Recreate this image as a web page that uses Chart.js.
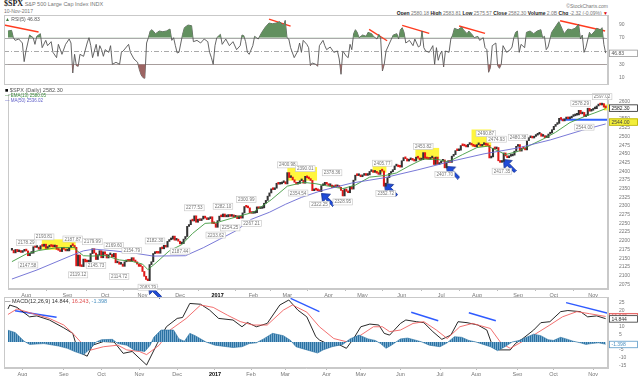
<!DOCTYPE html>
<html>
<head>
<meta charset="utf-8">
<script src="https://cdn.jsdelivr.net/npm/chart.js@4.4.1/dist/chart.umd.min.js"></script>
<style>
body { margin: 0; background: #fff; width: 640px; height: 376px; overflow: hidden; position: relative; font-family: "Liberation Sans", Arial, sans-serif; }
.pane { position: absolute; left: 0; width: 640px; }
.t { position: absolute; white-space: nowrap; font-size: 5px; line-height: 6px; color: #777; }
.t b { color: #222; }
</style>
</head>
<body>
<div class="t" style="left:4px;top:1px;font-size:5.5px;"><b style="font-family:'Liberation Serif';font-size:8px;">$SPX</b> S&amp;P 500 Large Cap Index INDX</div>
<div class="t" style="left:4px;top:8px;">10-Nov-2017</div>
<div class="t" style="right:32px;top:3px;">©StockCharts.com</div>
<div class="t" style="right:32px;top:10px;"><b>Open</b> 2580.18 <b>High</b> 2583.81 <b>Low</b> 2575.57 <b>Close</b> 2582.30 <b>Volume</b> 2.0B <b>Chg</b> -2.32 (-0.09%) <span style="color:#d00">▼</span></div>

<div class="pane" style="top:15px;height:70px;"><canvas id="rsiChart"></canvas></div>
<div class="pane" style="top:86px;height:214px;"><canvas id="priceChart"></canvas></div>
<div class="pane" style="top:297px;height:79px;"><canvas id="macdChart"></canvas></div>

<div class="t" style="left:5px;top:16px;color:#555;"><span style="color:#3d7a3d">▲</span> RSI(5) 46.83</div>
<div class="t" style="left:5px;top:87px;color:#555;font-size:5.5px;"><span style="color:#000">■</span> $SPX (Daily) 2582.30</div>
<div class="t" style="left:5px;top:93px;color:#3a8a3a;font-size:4.5px;">— EMA(13) 2580.05</div>
<div class="t" style="left:5px;top:98px;color:#6060c8;font-size:4.5px;">— MA(50) 2536.02</div>
<div class="t" style="left:5px;top:298px;color:#333;font-size:5.5px;">— MACD(12,26,9) 14.844, <span style="color:#e05050">16.243</span>, <span style="color:#4a90c0">-1.398</span></div>

<script>
// x axis: trading-day index, 20 Jul 2016 = 0
const monthDays = [8, 31, 52, 73, 94, 115, 135, 154, 177, 196, 218, 240, 260, 283, 303, 325];
const monthLabels = ["Aug", "Sep", "Oct", "Nov", "Dec", "2017", "Feb", "Mar", "Apr", "May", "Jun", "Jul", "Aug", "Sep", "Oct", "Nov"];

// daily closes
const closes = [
  2173.0, 2165.2, 2175.0, 2168.5, 2169.2, 2166.6, 2170.1, 2173.6,
  2170.8, 2157.0, 2163.8, 2164.3, 2182.9, 2180.9, 2181.7, 2175.5, 2185.8, 2184.1, 2190.2, 2178.2, 2182.2, 2187.0, 2183.9, 2182.6, 2186.9, 2175.4, 2172.5, 2169.0, 2180.4, 2176.1, 2170.9,
  2170.9, 2180.0, 2186.5, 2186.2, 2181.3, 2127.8, 2159.0, 2127.0, 2125.8, 2147.3, 2139.2, 2139.1, 2139.8, 2163.1, 2177.2, 2164.7, 2146.1, 2159.9, 2171.4, 2151.1, 2168.3,
  2161.2, 2150.5, 2159.7, 2160.8, 2153.7, 2163.7, 2136.7, 2139.2, 2132.6, 2133.0, 2126.5, 2139.6, 2144.3, 2141.3, 2141.2, 2151.3, 2143.2, 2139.4, 2133.0, 2126.4, 2126.2,
  2111.7, 2097.9, 2088.7, 2085.2, 2131.5, 2139.6, 2163.3, 2167.5, 2164.5, 2164.2, 2180.4, 2176.9, 2187.1, 2181.9, 2198.2, 2202.9, 2204.7, 2213.4, 2201.7, 2204.7, 2198.8,
  2191.1, 2191.9, 2204.7, 2212.2, 2241.4, 2246.2, 2259.5, 2257.0, 2271.7, 2253.3, 2262.0, 2258.1, 2262.5, 2270.8, 2265.2, 2261.0, 2263.8, 2268.9, 2249.9, 2249.3, 2238.8,
  2257.8, 2270.8, 2269.0, 2277.0, 2268.9, 2268.9, 2275.3, 2270.4, 2274.6, 2267.9, 2271.9, 2263.7, 2271.3, 2265.2, 2280.1, 2298.4, 2296.7, 2294.7, 2280.9, 2278.9,
  2279.6, 2280.9, 2297.4, 2292.6, 2293.1, 2294.7, 2307.9, 2316.1, 2328.3, 2337.6, 2349.3, 2347.2, 2351.2, 2365.4, 2362.8, 2363.8, 2367.3, 2369.8, 2363.6,
  2396.0, 2381.9, 2383.1, 2375.3, 2368.4, 2363.0, 2364.9, 2372.6, 2373.5, 2365.5, 2385.3, 2381.4, 2378.3, 2373.5, 2344.0, 2348.5, 2346.0, 2344.0, 2341.6, 2358.6, 2361.1, 2368.1, 2362.7,
  2358.8, 2360.2, 2353.0, 2357.5, 2355.5, 2357.2, 2353.8, 2344.9, 2329.0, 2349.0, 2342.2, 2338.2, 2355.8, 2348.7, 2374.2, 2388.6, 2387.5, 2388.8, 2384.2,
  2388.3, 2391.2, 2388.1, 2389.5, 2399.3, 2399.4, 2396.9, 2399.6, 2394.4, 2390.9, 2402.3, 2400.7, 2357.0, 2365.7, 2381.7, 2394.0, 2398.4, 2404.4, 2415.1, 2415.8, 2412.9, 2411.8,
  2430.1, 2439.1, 2436.1, 2429.3, 2433.1, 2433.8, 2431.8, 2429.4, 2440.4, 2437.9, 2432.5, 2433.2, 2453.5, 2437.0, 2435.6, 2434.5, 2438.3, 2439.1, 2419.4, 2440.7, 2419.7, 2423.4,
  2429.0, 2432.5, 2409.8, 2425.2, 2427.4, 2425.5, 2443.3, 2447.8, 2459.3, 2459.1, 2460.6, 2473.8, 2473.5, 2472.5, 2469.9, 2477.1, 2477.8, 2475.4, 2472.1, 2470.3,
  2476.4, 2477.6, 2472.2, 2476.8, 2480.9, 2474.9, 2474.0, 2438.2, 2441.3, 2465.8, 2464.6, 2468.1, 2430.0, 2425.6, 2428.4, 2452.5, 2444.0, 2439.0, 2443.1, 2444.2, 2446.3, 2457.6, 2471.7,
  2476.6, 2457.9, 2465.5, 2465.1, 2461.4, 2488.1, 2496.5, 2498.4, 2495.6, 2500.2, 2503.9, 2506.7, 2508.2, 2500.6, 2502.2, 2496.7, 2496.8, 2507.0, 2510.1, 2519.4,
  2529.1, 2534.6, 2537.7, 2552.1, 2549.3, 2544.7, 2550.6, 2555.2, 2550.9, 2553.2, 2557.6, 2559.4, 2561.3, 2562.1, 2575.2, 2565.0, 2569.1, 2557.2, 2560.4, 2581.1, 2572.8, 2575.3,
  2579.4, 2579.9, 2587.8, 2591.1, 2590.6, 2594.4, 2584.6, 2582.3
];

const emaDays = [0, 8, 15, 25, 35, 36, 40, 45, 52, 60, 67, 73, 76, 80, 88, 95, 101, 108, 114, 115, 125, 135, 145, 154, 163, 170, 177, 185, 192, 200, 209, 215, 222, 230, 238, 244, 252, 260, 266, 272, 276, 283, 290, 298, 304, 312, 320, 326, 332];
const emaValues = [2140, 2162, 2172, 2180, 2181, 2173, 2157, 2156, 2158, 2145, 2141, 2133, 2117, 2134, 2171, 2189, 2221, 2250, 2252, 2253, 2268, 2282, 2318, 2357, 2368, 2364, 2357, 2350, 2360, 2383, 2388, 2395, 2415, 2435, 2434, 2427, 2448, 2468, 2472, 2458, 2448, 2457, 2475, 2495, 2512, 2540, 2557, 2568, 2580.05];

const maDays = [0, 14, 33, 40, 46, 57, 69, 79, 97, 107, 116, 125, 134, 144, 153, 162, 173, 190, 208, 227, 246, 264, 283, 301, 319, 332];
const maValues = [2090, 2116, 2157, 2171, 2176, 2171, 2164, 2156, 2157, 2180, 2204, 2228, 2262, 2282, 2305, 2325, 2344, 2366, 2381, 2404, 2429, 2450, 2467, 2490, 2518, 2536.02];

const rsiDays = [0, 2, 3, 4, 6, 8, 9, 10, 12, 14, 15, 16, 18, 19, 21, 22, 24, 25, 27, 28, 30, 32, 34, 35, 36, 37, 38, 39, 40, 42, 44, 45, 46, 47, 49, 50, 51, 52, 53, 54, 56, 57, 58, 60, 62, 63, 64, 67, 68, 70, 72, 73, 74, 75, 76, 77, 78, 79, 80, 82, 84, 86, 88, 90, 91, 92, 93, 94, 95, 97, 98, 100, 102, 103, 105, 107, 109, 111, 112, 113, 114, 115, 116, 118, 119, 121, 123, 125, 127, 129, 130, 131, 132, 133, 134, 136, 137, 139, 141, 143, 145, 147, 149, 151, 153, 154, 155, 156, 157, 159, 161, 162, 163, 164, 166, 167, 168, 169, 171, 172, 173, 174, 175, 176, 177, 179, 181, 183, 184, 185, 186, 188, 189, 190, 191, 192, 193, 194, 195, 197, 199, 200, 202, 203, 205, 206, 207, 208, 209, 210, 212, 213, 214, 216, 217, 218, 219, 220, 221, 223, 225, 226, 228, 229, 230, 231, 232, 234, 236, 237, 238, 239, 240, 241, 242, 243, 245, 246, 247, 248, 250, 252, 253, 255, 256, 258, 259, 261, 262, 264, 265, 266, 267, 268, 269, 271, 272, 273, 274, 275, 277, 279, 280, 281, 282, 283, 284, 285, 287, 288, 290, 292, 294, 296, 297, 298, 299, 300, 302, 304, 306, 308, 309, 311, 313, 315, 317, 318, 319, 320, 321, 323, 324, 326, 327, 329, 330, 331, 332];
const rsiValues = [80, 81, 70, 66, 68, 62, 34, 50, 74, 70, 60, 72, 76, 55, 66, 58, 64, 48, 40, 60, 45, 60, 68, 62, 17, 45, 28, 27, 45, 42, 62, 70, 58, 40, 60, 42, 58, 52, 42, 52, 48, 58, 30, 33, 30, 48, 50, 60, 48, 38, 33, 22, 14, 10, 9, 62, 70, 80, 82, 76, 80, 79, 80, 83, 66, 70, 58, 47, 48, 75, 85, 89, 88, 64, 66, 62, 68, 64, 48, 40, 30, 58, 70, 75, 60, 68, 58, 64, 52, 58, 74, 73, 64, 48, 45, 58, 72, 68, 78, 86, 92, 91, 92, 94, 88, 96, 70, 68, 55, 40, 50, 62, 48, 66, 60, 55, 28, 32, 30, 27, 58, 62, 66, 58, 52, 56, 48, 50, 38, 15, 50, 42, 40, 60, 52, 76, 82, 78, 70, 74, 72, 78, 76, 72, 68, 75, 70, 20, 30, 50, 62, 68, 74, 76, 68, 82, 85, 78, 62, 66, 58, 68, 56, 58, 80, 55, 50, 48, 58, 30, 55, 36, 45, 50, 26, 50, 48, 68, 74, 84, 82, 86, 82, 76, 80, 74, 70, 72, 66, 70, 55, 52, 18, 25, 58, 62, 28, 24, 30, 58, 48, 52, 56, 70, 78, 80, 48, 60, 55, 78, 80, 76, 80, 82, 70, 72, 52, 56, 78, 86, 94, 82, 76, 83, 82, 84, 90, 68, 74, 48, 55, 78, 74, 80, 84, 82, 85, 60, 46.83];

const macdDays = [0, 1, 5, 12, 16, 23, 31, 36, 39, 44, 47, 53, 59, 64, 69, 77, 83, 88, 94, 97, 101, 107, 112, 117, 125, 130, 133, 138, 144, 151, 156, 161, 166, 171, 173, 179, 184, 188, 192, 196, 201, 206, 209, 212, 218, 221, 227, 231, 236, 241, 246, 250, 255, 261, 266, 269, 273, 279, 282, 286, 292, 296, 301, 307, 311, 318, 322, 327, 332];
const macdValues = [21, 23.5, 22, 16, 16.6, 14, 9, 5.5, -6.1, -9, -2, 0.3, 0, -7.2, -6, -14.6, -0.8, 9.7, 15, 15.6, 24.5, 24, 20.3, 15, 14, 9.7, 12.4, 9.7, 11.8, 23.5, 26.7, 20.3, 16, 3.4, 1.3, -2, -1.7, -4, 2.2, 9.7, 11.4, 10.8, 5.5, 4.4, 11.8, 14, 12.9, 12.3, 6.6, 1.7, 4.4, 12.9, 12.3, 10.8, 7.6, -2, -5, -5, -0.8, 2.2, 7.6, 12.3, 12.9, 19.3, 20, 19.3, 16, 16.6, 14.844];
const signalDays = [0, 5, 14, 23, 31, 36, 42, 46, 53, 61, 66, 73, 77, 84, 90, 99, 107, 114, 122, 129, 136, 144, 153, 158, 166, 173, 181, 188, 196, 203, 208, 212, 218, 225, 231, 238, 244, 251, 258, 268, 274, 279, 284, 292, 301, 308, 316, 323, 332];
const signalValues = [17.5, 21, 18, 15, 10.8, 5.5, -2, -5.1, -3, -2, -5, -6, -8, -2, 7.6, 15, 23.5, 22, 17, 13, 10.8, 10.8, 20.3, 23.5, 19, 9.7, 2.2, 0.2, 4.4, 9.7, 9.7, 6.6, 7.6, 11.8, 12.9, 7.6, 2.2, 9.7, 11.8, 8.6, -0.8, -4, -0.8, 4.4, 10.8, 16, 19.3, 18, 16.243];
const histDays = [0, 4, 9, 12, 20, 28, 33, 37, 42, 46, 49, 52, 58, 61, 66, 70, 76, 79, 81, 85, 92, 95, 98, 101, 104, 110, 115, 125, 130, 134, 138, 142, 147, 153, 157, 160, 166, 172, 175, 180, 186, 190, 195, 200, 204, 207, 210, 213, 218, 222, 227, 230, 234, 240, 244, 248, 252, 256, 260, 264, 268, 272, 276, 280, 284, 288, 292, 296, 300, 303, 307, 310, 314, 318, 321, 324, 328, 332];
const histValues = [7.5, 6, 0.5, -1.5, -1, -2.5, -4, -6, -8, -4, 0, 1.5, 1.7, -1, -2, -5, -6, -2, 3, 7.6, 7.6, 2, 0.5, 5.5, 4, 0, -2, -3.5, -3, -1, -0.5, 2, 5.5, 4, 1, -3, -5, -7, -5, -3, -1.5, 2, 4.4, 2, 1, -1, -4, -2, 2, 2.5, 1, 0, -2, -3, -0.5, 3.4, 3, 1, 0, -1.5, -3, -5.5, -3, 0, 1, 3, 5, 4, 1.5, 1, 3, 2, 0.5, -0.5, -1.5, -1, -0.5, -1.398];

const priceTicks = [2075, 2100, 2125, 2150, 2175, 2200, 2225, 2250, 2275, 2300, 2325, 2350, 2375, 2400, 2425, 2450, 2475, 2500, 2525, 2550, 2575, 2600];
const rsiTicks = [10, 30, 50, 70, 90];
const macdTicks = [-15, -10, -5, 0, 5, 10, 15, 20, 25];

// labelled highs (h) and lows (l)
const noteDays = [8, 9, 18, 34, 37, 45, 47, 57, 60, 67, 76, 80, 94, 102, 114, 118, 122, 131, 134, 154, 160, 164, 172, 179, 185, 207, 209, 230, 242, 265, 271, 274, 283, 318, 320, 330];
const noteValues = [2178.29, 2147.58, 2193.81, 2187.87, 2119.12, 2179.99, 2145.73, 2169.60, 2114.72, 2154.79, 2083.79, 2182.30, 2187.44, 2277.53, 2233.62, 2282.10, 2254.25, 2300.99, 2267.21, 2400.98, 2354.54, 2390.01, 2322.25, 2378.36, 2328.95, 2405.77, 2352.72, 2453.82, 2407.70, 2490.87, 2474.93, 2417.35, 2480.38, 2578.29, 2544.00, 2597.02];
const noteSides = ["h", "l", "h", "h", "l", "h", "l", "h", "l", "h", "l", "h", "l", "h", "l", "h", "l", "h", "l", "h", "l", "h", "l", "h", "l", "h", "l", "h", "l", "h", "h", "l", "h", "h", "l", "h"];

// highlighted zones: [firstDay, lastDay, low, high]
const zones = [[16.7, 35.6, 2174, 2204], [154, 170.6, 2373, 2412], [201.7, 209.4, 2396, 2418], [225.6, 238.9, 2434, 2467], [257, 268, 2470, 2520], [331, 334.4, 2575, 2592]];
const arrowDays = [80, 176.7, 212, 246.7, 278.3];
const arrowPrices = [2053, 2318, 2346, 2396, 2415];
const levelLine = [306.7, 333.3, 2548];

// trend lines: [day1, value1, day2, value2]
const rsiTrends = [[-2.2, 89, 17, 78.5], [145, 98, 157, 87.5], [200.6, 82.5, 210.6, 65.4], [219, 88.5, 234, 76.5], [250.6, 87.5, 265, 76.5], [306.7, 95.5, 331.7, 80]];
const macdTrends = [[3.9, 19.9, 27, 15.7], [157, 27.7, 173, 19.3], [224, 18.9, 239, 13.5], [256, 18.6, 271, 13.5], [310, 25, 333.3, 18.3]];

const FONT = "Liberation Sans";
const pts = (days, vals) => days.map((d, i) => ({ x: d, y: vals[i] }));

function xAxis(showLabels, h) {
    return {
        type: "linear", min: -2.2, max: 333.3, offset: false,
        afterBuildTicks: (s) => { s.ticks = monthDays.map((v) => ({ value: v })); },
        ticks: {
            display: showLabels, autoSkip: false, maxRotation: 0, padding: 1,
            color: (c) => (c.index === 5 ? "#000" : "#777"),
            font: (c) => ({ family: FONT, size: 5.5, weight: c.index === 5 ? "bold" : "normal" }),
            callback: (v, i) => monthLabels[i],
        },
        grid: { drawOnChartArea: false, tickLength: 2, color: "#bbb" },
        border: { color: "#c9c9c9" },
        afterFit: (s) => { s.height = h; s.paddingLeft = 0; s.paddingRight = 0; },
    };
}

function yAxis(min, max, ticks, fmt) {
    return {
        type: "linear", position: "right", min: min, max: max,
        afterBuildTicks: (s) => { s.ticks = ticks.map((v) => ({ value: v })); },
        ticks: { autoSkip: false, color: "#777", font: { family: FONT, size: 5 }, padding: 3, callback: fmt },
        grid: { display: false },
        border: { color: "#c9c9c9" },
        afterFit: (s) => { s.width = 32; s.paddingTop = 0; s.paddingBottom = 0; },
    };
}

const frame = {
    id: "frame",
    afterDatasetsDraw(chart) {
        const a = chart.chartArea, ctx = chart.ctx;
        ctx.save();
        ctx.strokeStyle = "#c9c9c9";
        ctx.lineWidth = 1;
        ctx.strokeRect(Math.round(a.left) + 0.5, Math.round(a.top) + 0.5, Math.round(a.right - a.left) - 1, Math.round(a.bottom - a.top) - 1);
        ctx.restore();
    },
};

function drawTag(chart, value, text, stroke, fill, color) {
    const ctx = chart.ctx;
    const y = chart.scales.y.getPixelForValue(value);
    const x = chart.chartArea.right + 1;
    ctx.save();
    ctx.fillStyle = fill;
    ctx.fillRect(x, y - 3.5, 29, 7);
    ctx.strokeStyle = stroke;
    ctx.lineWidth = 0.8;
    ctx.strokeRect(x + 0.5, y - 3, 28, 6.5);
    ctx.fillStyle = color;
    ctx.font = "5px " + FONT;
    ctx.textBaseline = "middle";
    ctx.fillText(text, x + 2.5, y + 0.5);
    ctx.restore();
}

function line(data, color, width, extra) {
    return Object.assign({ type: "line", data: data, borderColor: color, borderWidth: width, pointRadius: 0, tension: 0, fill: false }, extra || {});
}

// ---------- RSI ----------
const rsiPts = pts(rsiDays, rsiValues);
const rsiLevels = {
    id: "rsiLevels",
    beforeDatasetsDraw(chart) {
        const { ctx, chartArea: a, scales: { y } } = chart;
        ctx.save();
        ctx.strokeStyle = "#aaa";
        ctx.lineWidth = 1;
        [70, 30].forEach((v) => {
            const py = Math.round(y.getPixelForValue(v)) + 0.5;
            ctx.beginPath(); ctx.moveTo(a.left, py); ctx.lineTo(a.right, py); ctx.stroke();
        });
        ctx.setLineDash([5, 2, 1, 2]);
        const py = Math.round(y.getPixelForValue(50)) + 0.5;
        ctx.beginPath(); ctx.moveTo(a.left, py); ctx.lineTo(a.right, py); ctx.stroke();
        ctx.restore();
    },
    afterDraw(chart) { drawTag(chart, 46.83, "46.83", "#999", "#fff", "#555"); },
};

new Chart(document.getElementById("rsiChart"), {
    type: "line",
    data: {
        datasets: [
            line(rsiPts, "rgba(0,0,0,0)", 0, { fill: { target: { value: 70 }, above: "#62905f", below: "rgba(0,0,0,0)" } }),
            line(rsiPts, "rgba(0,0,0,0)", 0, { fill: { target: { value: 30 }, above: "rgba(0,0,0,0)", below: "#9c6462" } }),
            line(rsiPts, "#555", 0.9),
        ].concat(rsiTrends.map((t) => line([{ x: t[0], y: t[1] }, { x: t[2], y: t[3] }], "#ff3b1f", 1.4))),
    },
    options: {
        animation: false, responsive: true, maintainAspectRatio: false,
        layout: { padding: { left: 4, right: 0, top: 0, bottom: 0 } },
        plugins: { legend: { display: false }, tooltip: { enabled: false } },
        scales: { x: Object.assign(xAxis(false, 0), { display: false }), y: yAxis(-1.1, 104.1, rsiTicks, (v) => (v === 50 ? "" : v)) },
    },
    plugins: [rsiLevels, frame],
});

// ---------- Price ----------
// blue cursor-style arrow pointing up-left
function arrowImage() {
    const c = document.createElement("canvas");
    c.width = 14; c.height = 14;
    const g = c.getContext("2d");
    g.fillStyle = "#1f4bd8";
    g.strokeStyle = "#0b2a8a";
    g.lineWidth = 0.8;
    g.beginPath();
    g.moveTo(0.5, 0.5); g.lineTo(9.5, 1.5); g.lineTo(6.5, 4.5); g.lineTo(13.5, 11.5);
    g.lineTo(11.5, 13.5); g.lineTo(4.5, 6.5); g.lineTo(1.5, 9.5);
    g.closePath(); g.fill(); g.stroke();
    return c;
}

const priceExtras = {
    id: "priceExtras",
    beforeDatasetsDraw(chart) {
        const { ctx, scales: { x, y } } = chart;
        ctx.save();
        ctx.fillStyle = "rgba(255,244,40,0.9)";
        zones.forEach((z) => {
            const x0 = x.getPixelForValue(z[0]), x1 = x.getPixelForValue(z[1]);
            const y0 = y.getPixelForValue(z[3]), y1 = y.getPixelForValue(z[2]);
            ctx.fillRect(x0, y0, x1 - x0, y1 - y0);
        });
        ctx.restore();
    },
    afterDatasetsDraw(chart) {
        const { ctx, scales: { x, y } } = chart;
        ctx.save();
        ctx.font = "4.6px " + FONT;
        ctx.textBaseline = "middle";
        noteDays.forEach((d, i) => {
            const text = noteValues[i].toFixed(2);
            const w = ctx.measureText(text).width + 3, h = 6;
            const px = x.getPixelForValue(d), py = y.getPixelForValue(noteValues[i]);
            const top = noteSides[i] === "h" ? py - 3 - h : py + 3;
            ctx.fillStyle = "#fff";
            ctx.fillRect(px - w / 2, top, w, h);
            ctx.strokeStyle = "#c4c4c4";
            ctx.lineWidth = 0.6;
            ctx.strokeRect(px - w / 2, top, w, h);
            ctx.fillStyle = "#777";
            ctx.fillText(text, px - w / 2 + 1.5, top + h / 2 + 0.3);
        });
        ctx.restore();
    },
    afterDraw(chart) {
        drawTag(chart, 2542, "2544.00", "#b8b000", "#f2ee3a", "#444");
        drawTag(chart, 2582.30, "2582.30", "#222", "#fff", "#222");
    },
};

const candleData = closes.map((c, i) => ({ x: i, y: [i ? closes[i - 1] : c, c] }));

new Chart(document.getElementById("priceChart"), {
    type: "bar",
    data: {
        datasets: [
            line(pts(maDays, maValues), "#6a6ad2", 0.9),
            line(pts(emaDays, emaValues), "#3f9a3f", 0.9),
            {
                type: "bar", data: candleData, barThickness: 1.4, minBarLength: 1.8, grouped: false,
                backgroundColor: (c) => (c.raw && c.raw.y[1] < c.raw.y[0] ? "#e01818" : "#333"),
            },
            line([{ x: levelLine[0], y: levelLine[2] }, { x: levelLine[1], y: levelLine[2] }], "#2f62ff", 2),
            {
                type: "scatter", data: pts(arrowDays, arrowPrices), clip: false,
                pointStyle: arrowImage(), pointRadius: 7,
            },
        ],
    },
    options: {
        animation: false, responsive: true, maintainAspectRatio: false,
        layout: { padding: { left: 4, right: 0, top: 0, bottom: 0 } },
        plugins: { legend: { display: false }, tooltip: { enabled: false } },
        scales: { x: xAxis(true, 11), y: yAxis(2061.3, 2622.1, priceTicks) },
    },
    plugins: [priceExtras, frame],
});

// ---------- MACD ----------
function stripes() {
    const c = document.createElement("canvas");
    c.width = 2; c.height = 1;
    const g = c.getContext("2d");
    g.fillStyle = "#2a72a3"; g.fillRect(0, 0, 1, 1);
    g.fillStyle = "#78aacd"; g.fillRect(1, 0, 1, 1);
    return g.createPattern(c, "repeat");
}

const macdTags = {
    id: "macdTags",
    afterDraw(chart) {
        drawTag(chart, 16.243, "16.243", "#e05050", "#ffd8d8", "#e05050");
        drawTag(chart, 14.844, "14.844", "#333", "#fff", "#333");
        drawTag(chart, -1.398, "-1.398", "#5a9ac8", "#fff", "#4a90c0");
    },
};

new Chart(document.getElementById("macdChart"), {
    type: "line",
    data: {
        datasets: [
            line(pts(histDays, histValues), "#2a72a3", 0.6, { fill: "origin", backgroundColor: stripes() }),
            line(pts(signalDays, signalValues), "#f06060", 0.9),
            line(pts(macdDays, macdValues), "#111", 0.9),
        ].concat(macdTrends.map((t) => line([{ x: t[0], y: t[1] }, { x: t[2], y: t[3] }], "#2f5bff", 1.4))),
    },
    options: {
        animation: false, responsive: true, maintainAspectRatio: false,
        layout: { padding: { left: 4, right: 0, top: 0, bottom: 0 } },
        plugins: { legend: { display: false }, tooltip: { enabled: false } },
        scales: { x: xAxis(true, 8), y: yAxis(-16.5, 28.6, macdTicks, (v) => (v === 0 ? "" : v)) },
    },
    plugins: [macdTags, frame],
});
</script>
</body>
</html>
